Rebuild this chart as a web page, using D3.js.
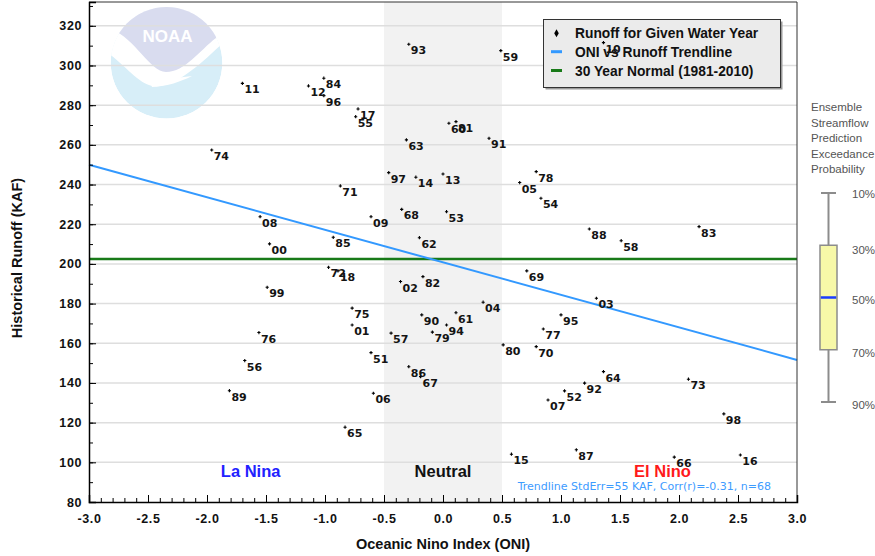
<!DOCTYPE html>
<html>
<head>
<meta charset="utf-8">
<script src="https://cdn.jsdelivr.net/npm/d3@7"></script>
<style>
  html, body { margin: 0; padding: 0; background: #fff; }
  svg { display: block; }
</style>
</head>
<body>
<svg id="chart" width="875" height="556"></svg>
<script>
// ---------------- DATA ----------------
const years = ["11","74","93","59","84","12","96","17","55","60","81","63","91","97","14","13","71","05","78","54","68","53","09","08","85","62","00","88","58","83","72","18","02","82","69","99","04","03","75","90","61","95","01","94","77","57","79","76","80","70","51","56","86","67","64","73","92","89","52","06","07","98","65","87","15","66","16","10"];
const oni = [-1.70,-1.96,-0.29,0.49,-1.01,-1.14,-1.01,-0.72,-0.74,0.05,0.11,-0.31,0.39,-0.46,-0.23,0.00,-0.87,0.65,0.79,0.83,-0.35,0.03,-0.61,-1.55,-0.93,-0.20,-1.47,1.24,1.51,2.17,-0.97,-0.89,-0.36,-0.17,0.71,-1.49,0.34,1.30,-0.77,-0.18,0.11,1.00,-0.77,0.03,0.85,-0.44,-0.09,-1.56,0.51,0.79,-0.61,-1.68,-0.29,-0.19,1.36,2.08,1.20,-1.81,1.03,-0.59,0.89,2.38,-0.83,1.13,0.58,1.96,2.52,1.36];
const runoff = [291.0,257.4,310.7,307.5,293.6,289.7,284.8,278.1,274.2,270.9,271.7,262.5,263.3,246.0,243.7,245.3,239.3,241.0,246.5,233.1,227.5,226.3,223.8,223.8,213.4,213.2,210.1,217.6,211.7,218.8,198.3,196.5,191.1,193.6,196.5,188.2,180.7,182.7,177.7,174.3,175.4,174.3,169.2,169.2,167.2,165.1,165.6,165.4,159.2,158.3,155.3,151.3,148.2,143.2,145.7,141.9,139.9,136.1,136.0,134.8,131.4,124.4,117.7,106.3,104.1,102.6,103.7,311.5];

const trendOni = [-3.0, 3.0];
const trendRunoff = [250.0, 151.6];
const normalRunoff = 202.5;

const xDomain = [-3.0, 3.0];
const yDomain = [80, 332];
const xTickValues = [-3.0,-2.5,-2.0,-1.5,-1.0,-0.5,0.0,0.5,1.0,1.5,2.0,2.5,3.0];
const xTickLabels = ["-3.0","-2.5","-2.0","-1.5","-1.0","-0.5","0.0","0.5","1.0","1.5","2.0","2.5","3.0"];
const yTickValues = [80,100,120,140,160,180,200,220,240,260,280,300,320];
const yGridValues = [100,120,140,160,180,200,220,240,260,280,300,320];
const neutralRange = [-0.5, 0.5];

const phaseLabels = ["La Nina","Neutral","El Nino"];
const phaseCenters = [-1.63, 0.0, 1.86];

const legendLabels = ["Runoff for Given Water Year","ONI vs Runoff Trendline","30 Year Normal (1981-2010)"];
const trendText = "Trendline StdErr=55 KAF, Corr(r)=-0.31, n=68";
const espTitle = ["Ensemble","Streamflow","Prediction","Exceedance","Probability"];
const espPercents = [10,30,50,70,90];
const espLabels = ["10%","30%","50%","70%","90%"];

// ---------------- CHART ----------------
const svg = d3.select("#chart");
const L = 89, R = 797, T = 2, B = 502;
const x = d3.scaleLinear().domain(xDomain).range([L, R]);
const y = d3.scaleLinear().domain(yDomain).range([B, T]);

svg.append("rect").attr("width", 875).attr("height", 556).attr("fill", "#fff");

// NOAA logo (faded watermark)
const logo = svg.append("g");
const cx = 166.5, cy = 62.8, cr = 55.8;
logo.append("clipPath").attr("id", "logoClip")
  .append("circle").attr("cx", cx).attr("cy", cy).attr("r", cr);
const lg = logo.append("g").attr("clip-path", "url(#logoClip)");
lg.append("circle").attr("cx", cx).attr("cy", cy).attr("r", cr).attr("fill", "#d7eef8");
lg.append("path").attr("fill", "#ffffff")
  .attr("d", `M100,48 C125,62 140,90 160,86 C180,84 205,60 226,40 L226,0 L100,0 Z`);
lg.append("path").attr("fill", "#d9dcef")
  .attr("d", `M112,30 C135,38 150,72 166,72 C185,72 200,50 216,38 L226,0 L100,0 Z`);
lg.append("path").attr("fill", "#ffffff")
  .attr("d", `M150,82 C162,80 175,78 192,76 C180,82 168,86 152,87 Z`);
logo.append("text").attr("x", cx + 1).attr("y", 42).attr("text-anchor", "middle")
  .attr("font-family", "Liberation Sans, Arial, sans-serif").attr("font-weight", "bold")
  .attr("font-size", 17).attr("fill", "#fff").text("NOAA");

// neutral band
svg.append("rect")
  .attr("x", x(neutralRange[0])).attr("y", T)
  .attr("width", x(neutralRange[1]) - x(neutralRange[0])).attr("height", B - T)
  .attr("fill", "#f2f2f2");

// gridlines
svg.append("g").selectAll("line").data(yGridValues).join("line")
  .attr("x1", L).attr("x2", R)
  .attr("y1", d => y(d)).attr("y2", d => y(d))
  .attr("stroke", "#dedede").attr("stroke-width", 1.5);

// normal line
svg.append("line")
  .attr("x1", L).attr("x2", R)
  .attr("y1", y(normalRunoff)).attr("y2", y(normalRunoff))
  .attr("stroke", "#187a18").attr("stroke-width", 2.5);

// trendline
const trend = trendOni.map((o, i) => ({ o, r: trendRunoff[i] }));
svg.append("path").datum(trend)
  .attr("d", d3.line().x(d => x(d.o)).y(d => y(d.r)))
  .attr("fill", "none").attr("stroke", "#3399ff").attr("stroke-width", 2);

// frame top / right
svg.append("line").attr("x1", L).attr("x2", R).attr("y1", T).attr("y2", T).attr("stroke", "#333").attr("stroke-width", 1);
svg.append("line").attr("x1", R).attr("x2", R).attr("y1", T).attr("y2", B).attr("stroke", "#333").attr("stroke-width", 1);

// axes
const tickFont = "Liberation Sans, Arial, sans-serif";
const minorY = d3.range(80, 332, 10);
svg.append("g").attr("transform", `translate(${L},0)`)
  .call(d3.axisLeft(y).tickValues(minorY).tickSize(-4).tickFormat(""))
  .call(g => g.select(".domain").remove())
  .call(g => g.selectAll("line").attr("stroke", "#000"));
const yAxis = svg.append("g").attr("transform", `translate(${L},0)`)
  .call(d3.axisLeft(y).tickValues(yTickValues).tickSize(-7).tickPadding(7).tickFormat(d3.format("d")))
  .call(g => g.select(".domain").attr("stroke", "#000").attr("stroke-width", 1.5));
yAxis.selectAll("text").attr("font-family", tickFont).attr("font-weight", "bold")
  .attr("font-size", 12.5).attr("fill", "#111").attr("letter-spacing", 0.6);

const minorX = d3.range(-30, 31, 1).map(d => d / 10);
svg.append("g").attr("transform", `translate(0,${B})`)
  .call(d3.axisBottom(x).tickValues(minorX).tickSize(-4).tickFormat(""))
  .call(g => g.select(".domain").remove())
  .call(g => g.selectAll("line").attr("stroke", "#000"));
const xAxis = svg.append("g").attr("transform", `translate(0,${B})`)
  .call(d3.axisBottom(x).tickValues(xTickValues).tickSize(-7).tickPadding(12)
    .tickFormat((d, i) => xTickLabels[i]))
  .call(g => g.select(".domain").attr("stroke", "#000").attr("stroke-width", 1.5));
xAxis.selectAll("text").attr("font-family", tickFont).attr("font-weight", "bold")
  .attr("font-size", 12.5).attr("fill", "#111").attr("letter-spacing", 0.6);

// axis titles
svg.append("text").attr("x", 443).attr("y", 549).attr("text-anchor", "middle")
  .attr("font-family", tickFont).attr("font-weight", "bold").attr("font-size", 14.5).attr("fill", "#111")
  .text("Oceanic Nino Index (ONI)");
svg.append("text").attr("transform", "translate(22,258) rotate(-90)").attr("text-anchor", "middle")
  .attr("font-family", tickFont).attr("font-weight", "bold").attr("font-size", 14.5).attr("fill", "#111")
  .text("Historical Runoff (KAF)");

// phase labels
const phaseColors = ["#2222ff", "#111111", "#ff1a1a"];
svg.append("g").selectAll("text").data(phaseLabels).join("text")
  .attr("x", (d, i) => x(phaseCenters[i])).attr("y", 477).attr("text-anchor", "middle")
  .attr("font-family", tickFont).attr("font-weight", "bold").attr("font-size", 16.5)
  .attr("fill", (d, i) => phaseColors[i]).text(d => d);

// trend statistics text
svg.append("text").attr("x", 771).attr("y", 490).attr("text-anchor", "end")
  .attr("font-family", "DejaVu Sans, Verdana, sans-serif").attr("font-size", 11).attr("fill", "#3d9bff")
  .text(trendText);

// legend
const lgX = 543.5, lgY = 19.5, lgW = 237, lgH = 68;
svg.append("rect").attr("x", lgX + 2).attr("y", lgY + 2).attr("width", lgW).attr("height", lgH).attr("fill", "#9a9a9a");
svg.append("rect").attr("x", lgX).attr("y", lgY).attr("width", lgW).attr("height", lgH)
  .attr("fill", "#ebebeb").attr("stroke", "#333").attr("stroke-width", 1);
const legRows = [33.3, 51.7, 70.5];
const leg = svg.append("g");
leg.append("path").attr("d", d3.symbol(d3.symbolDiamond, 18)()).attr("transform", `translate(556.5,${legRows[0]})`).attr("fill", "#000");
leg.append("line").attr("x1", 551).attr("x2", 562).attr("y1", legRows[1]).attr("y2", legRows[1]).attr("stroke", "#3399ff").attr("stroke-width", 3);
leg.append("line").attr("x1", 551).attr("x2", 562).attr("y1", legRows[2]).attr("y2", legRows[2]).attr("stroke", "#187a18").attr("stroke-width", 3);
leg.selectAll("text").data(legendLabels).join("text")
  .attr("x", 575).attr("y", (d, i) => legRows[i] + 5)
  .attr("font-family", tickFont).attr("font-weight", "bold").attr("font-size", 13.8).attr("fill", "#111")
  .text(d => d);

// points
const pts = years.map((yr, i) => ({ yr, o: oni[i], r: runoff[i] }));
const pg = svg.append("g");
pg.selectAll("path").data(pts).join("path")
  .attr("transform", d => `translate(${x(d.o)},${y(d.r)})`)
  .attr("d", "M-1.6,0H1.6M0,-1.6V1.6")
  .attr("stroke", "#000").attr("stroke-width", 1.1).attr("fill", "none");
pg.selectAll("text").data(pts).join("text")
  .attr("x", d => x(d.o) + 2).attr("y", d => y(d.r) + 10)
  .attr("font-family", "DejaVu Sans, Verdana, sans-serif").attr("font-weight", "bold")
  .attr("font-size", 11).attr("fill", "#141414")
  .text(d => d.yr);

// ESP exceedance panel
const espY = d3.scaleLinear().domain([10, 90]).range([193, 402]);
const panelFont = "Liberation Sans, Arial, sans-serif";
svg.append("g").selectAll("text").data(espTitle).join("text")
  .attr("x", 811).attr("y", (d, i) => 111 + i * 15.6)
  .attr("font-family", panelFont).attr("font-size", 11.5).attr("fill", "#555")
  .text(d => d);
const bx = 828.5, bw = 17;
const box = svg.append("g");
box.append("line").attr("x1", bx).attr("x2", bx).attr("y1", espY(10)).attr("y2", espY(90)).attr("stroke", "#8c8c8c").attr("stroke-width", 2);
box.append("line").attr("x1", bx - 7.5).attr("x2", bx + 7.5).attr("y1", espY(10)).attr("y2", espY(10)).attr("stroke", "#8c8c8c").attr("stroke-width", 2);
box.append("line").attr("x1", bx - 7.5).attr("x2", bx + 7.5).attr("y1", espY(90)).attr("y2", espY(90)).attr("stroke", "#8c8c8c").attr("stroke-width", 2);
box.append("rect").attr("x", bx - bw / 2).attr("y", espY(30)).attr("width", bw).attr("height", espY(70) - espY(30))
  .attr("fill", "#f7f8a8").attr("stroke", "#8c8c8c").attr("stroke-width", 1.5);
box.append("line").attr("x1", bx - bw / 2 + 0.8).attr("x2", bx + bw / 2 - 0.8).attr("y1", espY(50)).attr("y2", espY(50)).attr("stroke", "#1a3cff").attr("stroke-width", 2.5);
const labelShift = [5, 9, 6, 7, 7];
svg.append("g").selectAll("text").data(espLabels).join("text")
  .attr("x", 852).attr("y", (d, i) => espY(espPercents[i]) + labelShift[i])
  .attr("font-family", panelFont).attr("font-size", 11.5).attr("fill", "#555")
  .text(d => d);
</script>
</body>
</html>
